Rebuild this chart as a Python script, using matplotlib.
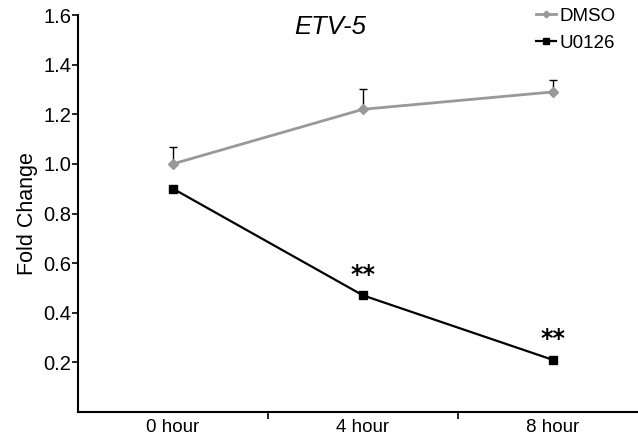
import numpy as np
import matplotlib
matplotlib.use("Agg")
from matplotlib import pyplot as plt

plt.rcParams["font.family"] = ["Liberation Sans", "DejaVu Sans"]

time_labels = ["0 hour", "4 hour", "8 hour"]
dmso_mean = [1.00, 1.22, 1.29]
dmso_err = [0.07, 0.08, 0.05]
u0126_mean = [0.90, 0.47, 0.21]
u0126_err = [0.01, 0.01, 0.01]
u0126_sig = ["", "**", "**"]

x = np.arange(len(time_labels))

fig = plt.figure(figsize=(6.38, 4.40), dpi=100)
ax = fig.add_axes([78 / 638, 28 / 440, 570 / 638, 397 / 440])

# upper error bars only, drawn in black under the lines
ax.errorbar(x, dmso_mean, yerr=[np.zeros(3), dmso_err], fmt="none",
            ecolor="black", elinewidth=1.0, capsize=3, capthick=1.0, zorder=2)
ax.errorbar(x, u0126_mean, yerr=[np.zeros(3), u0126_err], fmt="none",
            ecolor="black", elinewidth=1.0, capsize=3, capthick=1.0, zorder=2)

ax.plot(x, dmso_mean, color="#999999", lw=2.0, marker="D", ms=5,
        mec="#999999", label="DMSO", zorder=3)
ax.plot(x, u0126_mean, color="black", lw=1.6, marker="s", ms=6,
        label="U0126", zorder=4)

for xi, yi, s in zip(x, u0126_mean, u0126_sig):
    if s:
        ax.text(xi, yi + 0.035, s, ha="center", va="bottom",
                fontsize=17, fontweight="bold", family="DejaVu Sans")

ax.set_xlim(-0.5, 2.5)
ax.set_ylim(0, 1.6)
ax.set_yticks([0.2, 0.4, 0.6, 0.8, 1.0, 1.2, 1.4, 1.6])
ax.set_yticklabels([f"{v:.1f}" for v in ax.get_yticks()])
ax.set_xticks([0.5, 1.5])
ax.set_xticklabels([])
ax.set_xticks(x, minor=True)
ax.set_xticklabels(time_labels, minor=True)
ax.tick_params(axis="x", which="minor", length=0, labelsize=13.5, pad=5)
ax.tick_params(axis="x", which="major", length=5, width=1.2, direction="out")
ax.tick_params(axis="y", length=4, width=1.2, labelsize=14.5, pad=1)

for side in ["top", "right"]:
    ax.spines[side].set_visible(False)
for side in ["left", "bottom"]:
    ax.spines[side].set_linewidth(1.5)

ax.set_ylabel("Fold Change", fontsize=15.5, labelpad=4)
fig.text(330 / 638, 1 - 27 / 440, "ETV-5", ha="center", va="center",
         fontsize=18.5, style="italic")

leg = ax.legend(loc="upper right", bbox_to_anchor=(623 / 638, 1.0),
                bbox_transform=fig.transFigure, frameon=False, fontsize=13.5,
                handlelength=1.05, handletextpad=0.2, labelspacing=0.55,
                borderaxespad=0.0, markerscale=0.7)

fig.savefig("out.png", dpi=100)
